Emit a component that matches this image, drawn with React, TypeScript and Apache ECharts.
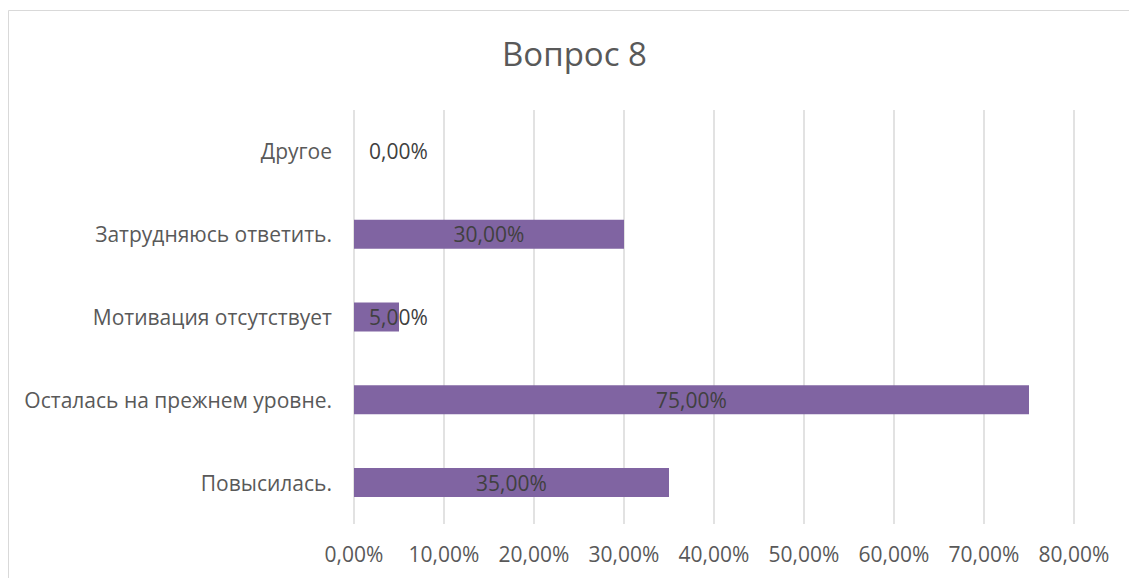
import React, { useEffect, useRef } from "react";
import * as echarts from "echarts";

const categories = [
  "Другое",
  "Затрудняюсь ответить.",
  "Мотивация отсутствует",
  "Осталась на прежнем уровне.",
  "Повысилась.",
];
const values = [0, 0.3, 0.05, 0.75, 0.35];
const titleText = "Вопрос 8";

const fmt = (v: number) => (v * 100).toFixed(2).replace(".", ",") + "%";

export default function App() {
  const ref = useRef<HTMLDivElement>(null);
  useEffect(() => {
    const chart = echarts.init(ref.current!, null, { renderer: "svg" });
    const font = "'Open Sans', sans-serif";
    chart.setOption({
      animation: false,
      textStyle: { fontFamily: font },
      graphic: [
        {
          type: "rect",
          shape: { x: 8.5, y: 10.5, width: 1300, height: 800 },
          style: { fill: "none", stroke: "#d9d9d9", lineWidth: 1 },
          silent: true,
        },
      ],
      title: {
        text: titleText,
        left: 497,
        top: 32,
        textStyle: { fontFamily: font, fontSize: 33, fontWeight: "normal", color: "#595959" },
      },
      grid: { left: 354, right: 55, top: 110, bottom: 54, containLabel: false },
      xAxis: {
        type: "value",
        min: 0,
        max: 0.8,
        interval: 0.1,
        axisLine: { show: false },
        axisTick: { show: false },
        splitLine: { lineStyle: { color: "#d9d9d9", width: 1.5 } },
        axisLabel: { formatter: (v: number) => fmt(v), color: "#595959", fontSize: 21, margin: 19, fontFamily: font },
      },
      yAxis: {
        type: "category",
        data: categories,
        inverse: true,
        axisLine: { show: false },
        axisTick: { show: false },
        axisLabel: { color: "#595959", fontSize: 21, margin: 22, fontFamily: font },
      },
      series: [
        {
          type: "bar",
          data: values.map((v) => ({
            value: v,
            label:
              v < 0.1
                ? { position: "insideLeft", distance: 15 }
                : { position: "inside" },
          })),
          barWidth: 29,
          itemStyle: { color: "#8064A2" },
          label: {
            show: true,
            formatter: (p: any) => fmt(p.value),
            color: "#404040",
            fontSize: 21,
            fontFamily: font,
          },
        },
      ],
    });
    return () => chart.dispose();
  }, []);
  return (
    <div
      ref={ref}
      style={{ position: "absolute", left: 0, top: 0, width: 1129, height: 578, background: "#fff" }}
    />
  );
}
